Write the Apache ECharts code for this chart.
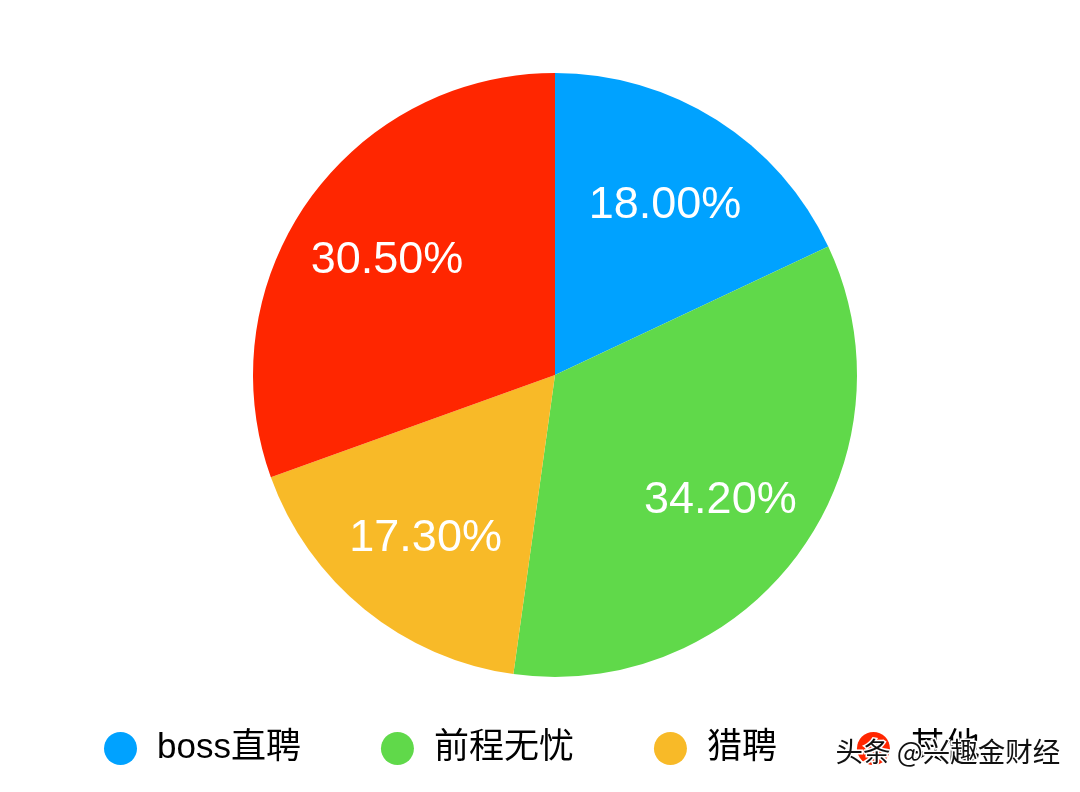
<!DOCTYPE html>
<html>
<head>
<meta charset="utf-8">
<script src="https://cdn.jsdelivr.net/npm/echarts@6/dist/echarts.min.js"></script>
<style>html,body{margin:0;padding:0;background:#fff}#c{width:1080px;height:792px}</style>
</head>
<body>
<div id="c"></div>
<script>
const categories = ['boss直聘', '前程无忧', '猎聘', '其他'];
const shares = [18.0, 34.2, 17.3, 30.5];
const colors = ['#00A2FF', '#60D94A', '#F8BA28', '#FF2600'];
const watermark = '头条 @兴趣金财经';

const data = categories.map((n, i) => ({ name: n, value: shares[i] }));
const chart = echarts.init(document.getElementById('c'));
const R = 302;
chart.setOption({
  animation: false,
  color: colors,
  legend: {
    data: categories,
    left: 99,
    top: 726,
    icon: 'circle',
    itemWidth: 33,
    itemHeight: 33,
    itemGap: 80,
    textStyle: {
      fontSize: 35,
      color: '#000',
      fontFamily: '"Liberation Sans", "Noto Sans CJK SC", sans-serif',
      padding: [0, 0, 0, 15]
    }
  },
  series: [
    {
      type: 'pie',
      center: [555, 375],
      radius: [0, R],
      startAngle: 90,
      clockwise: true,
      data: data,
      label: { show: false },
      labelLine: { show: false },
      itemStyle: { borderWidth: 0 },
      emphasis: { disabled: true }
    },
    {
      type: 'pie',
      center: [555, 375],
      radius: [R * 0.34, R],
      startAngle: 90,
      clockwise: true,
      silent: true,
      data: data,
      itemStyle: { color: 'rgba(0,0,0,0)', borderWidth: 0 },
      label: {
        show: true,
        position: 'inside',
        color: '#fff',
        fontSize: 45,
        offset: [0, 4],
        fontFamily: '"Liberation Sans", Arial, sans-serif',
        formatter: p => p.value.toFixed(2) + '%'
      },
      labelLine: { show: false },
      emphasis: { disabled: true }
    }
  ],
  graphic: [
    {
      type: 'text',
      left: 834,
      top: 736,
      z: 100,
      style: {
        text: watermark,
        fontSize: 27.5,
        fill: '#111',
        stroke: '#fff',
        lineWidth: 3,
        fontFamily: '"Noto Sans CJK SC", sans-serif'
      }
    }
  ]
});
</script>
</body>
</html>
